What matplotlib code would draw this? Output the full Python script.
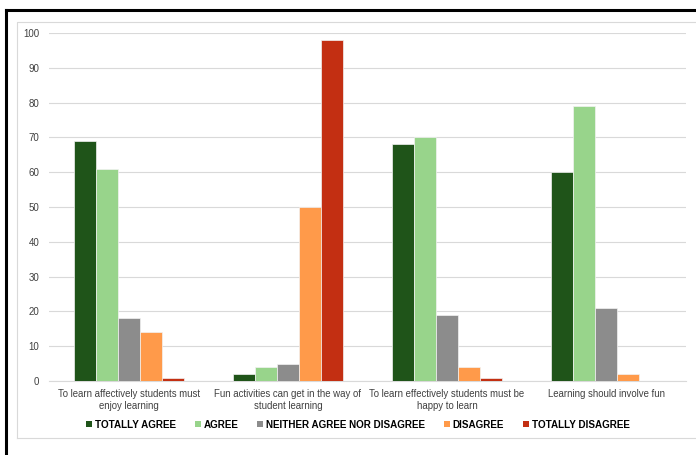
import matplotlib

matplotlib.use("Agg")

import matplotlib.pyplot as plt
import numpy as np
from matplotlib.lines import Line2D
from matplotlib.patches import Patch

plt.rcParams["font.family"] = ["Liberation Sans", "DejaVu Sans"]

# ---------------------------------------------------------------------------
# Data
# ---------------------------------------------------------------------------
categories = [
    "To learn affectively students must\nenjoy learning",
    "Fun activities can get in the way of\nstudent learning",
    "To learn effectively students must be\nhappy to learn",
    "Learning should involve fun",
]
series_names = [
    "TOTALLY AGREE",
    "AGREE",
    "NEITHER AGREE NOR DISAGREE",
    "DISAGREE",
    "TOTALLY DISAGREE",
]
totally_agree = [69, 2, 68, 60]
agree = [61, 4, 70, 79]
neither = [18, 5, 19, 21]
disagree = [14, 50, 4, 2]
totally_disagree = [1, 98, 1, 0]
colors = ["#1F5419", "#98D48B", "#8C8C8C", "#FF9A4A", "#C32F12"]
yticks = list(range(0, 101, 10))

# ---------------------------------------------------------------------------
# Figure
# ---------------------------------------------------------------------------
fig = plt.figure(figsize=(6.96, 4.55), dpi=100)
ax = fig.add_axes([0.0704, 0.1626, 0.915, 0.765])

values = [totally_agree, agree, neither, disagree, totally_disagree]
x = np.arange(len(categories))
width = 0.138
for i, (vals, col, name) in enumerate(zip(values, colors, series_names)):
    offs = (i - 2) * width
    ax.bar(x + offs, vals, width, color=col, edgecolor="#f2f2f2",
           linewidth=0.5, label=name, zorder=3)

ax.set_xlim(-0.5, len(categories) - 0.5)
ax.set_ylim(0, 100)
ax.set_yticks(yticks)
ax.set_yticklabels([str(t) for t in yticks], fontsize=7, color="#404040")
ax.set_xticks(x)
ax.set_xticklabels(categories, fontsize=6.9, color="#404040", linespacing=1.3)
ax.tick_params(axis="both", length=0, pad=7)
ax.tick_params(axis="x", pad=5.5)
ax.grid(axis="y", color="#D9D9D9", linewidth=0.8, zorder=0)
for s in ("top", "right", "left"):
    ax.spines[s].set_visible(False)
ax.spines["bottom"].set_color("#D9D9D9")
ax.spines["bottom"].set_linewidth(0.8)

handles = [Patch(facecolor=c, edgecolor="none") for c in colors]
fig.legend(handles, series_names, loc="center", bbox_to_anchor=(0.514, 0.067),
           ncol=5, frameon=False, handlelength=0.6, handleheight=0.6,
           handletextpad=0.3, columnspacing=1.9,
           prop={"size": 7.1, "weight": "bold"})

# outer black frame and inner light frame
fig.add_artist(Line2D([6 / 696, 6 / 696], [0, 1 - 10 / 455], color="black",
                      linewidth=2.2, transform=fig.transFigure))
fig.add_artist(Line2D([6 / 696, 1], [1 - 10 / 455, 1 - 10 / 455], color="black",
                      linewidth=2.2, transform=fig.transFigure))
inner_l, inner_t, inner_b = 17 / 696, 1 - 22 / 455, 1 - 438 / 455
fig.add_artist(Line2D([inner_l, inner_l, 1], [inner_b, inner_t, inner_t],
                      color="#D9D9D9", linewidth=0.8, transform=fig.transFigure))
fig.add_artist(Line2D([inner_l, 1], [inner_b, inner_b],
                      color="#D9D9D9", linewidth=0.8, transform=fig.transFigure))

fig.savefig("out.png", dpi=100)
